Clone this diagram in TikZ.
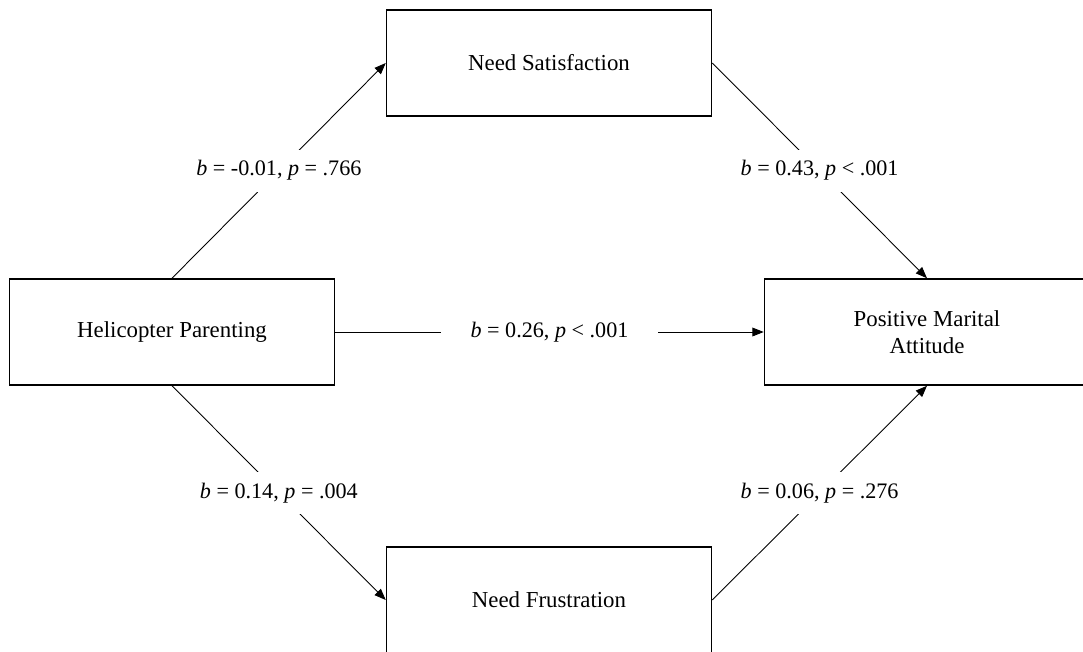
\documentclass[tikz,border=0pt]{standalone}
\usepackage{fontspec}
\setmainfont{Liberation Serif}
\usetikzlibrary{arrows.meta}

\begin{document}
\begin{tikzpicture}[x=0.02cm, y=-0.02cm,
    var/.style={draw, line width=0.9pt, minimum width=6.5cm, minimum height=2.12cm,
        align=center, font=\fontsize{13}{15.5}\selectfont},
    effect/.style={-{Triangle[length=6.5pt, width=5pt]}, line width=0.5pt},
    coef/.style={fill=white, inner xsep=0.3cm, minimum height=0.84cm,
        font=\fontsize{12.6}{15}\selectfont}]
    \useasboundingbox (0,0) rectangle (1083,652);

    % ==========================================
    % Variables
    % ==========================================
    \node[var] (hp)  at (172,332) {Helicopter Parenting};
    \node[var] (ns)  at (549,63)  {Need Satisfaction};
    \node[var] (nf)  at (549,600) {Need Frustration};
    \node[var] (pma) at (927,332) {Positive Marital\\Attitude};

    % ==========================================
    % Paths with coefficients
    % ==========================================
    % a-paths
    \draw[effect] (hp.north) -- node[coef] {\textit{b} = -0.01, \textit{p} = .766} (ns.west);
    \draw[effect] (hp.south) -- node[coef] {\textit{b} = 0.14, \textit{p} = .004} (nf.west);

    % b-paths
    \draw[effect] (ns.east) -- node[coef] {\textit{b} = 0.43, \textit{p} < .001} (pma.north);
    \draw[effect] (nf.east) -- node[coef] {\textit{b} = 0.06, \textit{p} = .276} (pma.south);

    % direct path
    \draw[effect] (hp.east) -- node[coef, inner xsep=0.6cm] {\textit{b} = 0.26, \textit{p} < .001} (pma.west);
\end{tikzpicture}
\end{document}
